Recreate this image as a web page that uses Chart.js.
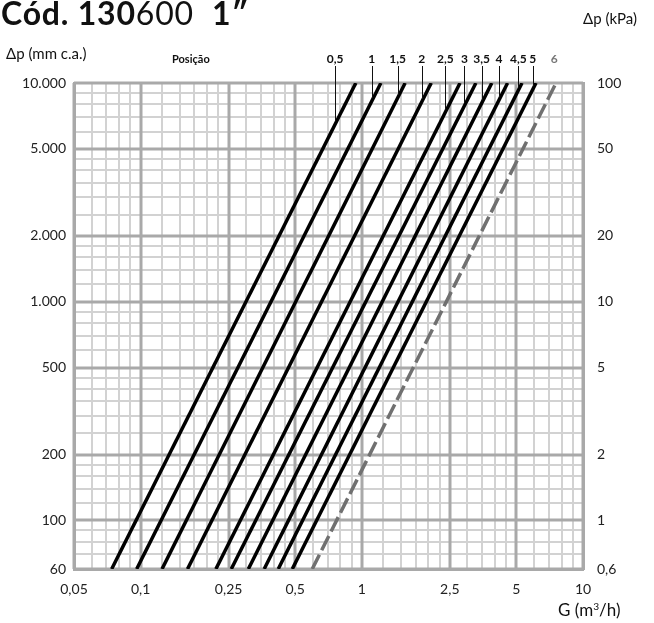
<!DOCTYPE html>
<html>
<head>
<meta charset="utf-8">
<script src="https://cdn.jsdelivr.net/npm/chart.js@4.4.1/dist/chart.umd.min.js"></script>
<style>
body { margin: 0; background: #fff; }
#wrap { position: relative; width: 654px; height: 623px; font-family: Lato, sans-serif; color: #111; }
canvas { position: absolute; left: 0; top: 0; }
.t { position: absolute; white-space: nowrap; line-height: 1; }
sup { font-size: 0.6em; vertical-align: 0.55em; line-height: 0; }
</style>
</head>
<body>
<div id="wrap">
  <canvas id="valveChart" width="654" height="623"></canvas>
  <div class="t" style="left:1px;top:-3px;font-size:32px;letter-spacing:0.8px;"><b>Cód. 130</b>600&nbsp; <b>1″</b></div>
  <div class="t" style="left:6px;top:46px;font-size:15px;">Δp (mm c.a.)</div>
  <div class="t" style="left:172px;top:53px;font-size:11px;font-weight:bold;">Posição</div>
  <div class="t" style="left:583px;top:11px;font-size:15px;">Δp (kPa)</div>
  <div class="t" style="left:558px;top:601px;font-size:17px;">G (m<sup>3</sup>/h)</div>
</div>
<script>
// valve positions and where each line meets the bottom (60 mm) and top (10.000 mm) of the grid
var positions = ['0,5', '1', '1,5', '2', '2,5', '3', '3,5', '4', '4,5', '5', '6'];
var gAtBottom = [0.074, 0.096, 0.125, 0.163, 0.219, 0.257, 0.307, 0.362, 0.419, 0.485, 0.597];
var gAtTop = [0.94, 1.22, 1.57, 2.06, 2.78, 3.28, 3.87, 4.56, 5.3, 6.13, 7.55];
var dpEnds = [60, 10000];
// flow value under each position label (where the leader line drops)
var labelG = [0.757, 1.109, 1.453, 1.865, 2.385, 2.91, 3.48, 4.17, 5.1, 5.93, 7.42];

var xMajor = [0.05, 0.1, 0.25, 0.5, 1, 2.5, 5, 10];
var xMinor = [0.06, 0.07, 0.08, 0.09, 0.125, 0.15, 0.175, 0.2, 0.225, 0.3, 0.35, 0.4, 0.45,
    0.6, 0.7, 0.8, 0.9, 1.25, 1.5, 1.75, 2, 2.25, 3, 3.5, 4, 4.5, 6, 7, 8, 9];
var yMajor = [60, 100, 200, 500, 1000, 2000, 5000, 10000];
var yMinor = [70, 80, 90, 120, 140, 160, 180, 250, 300, 350, 400, 450, 600, 700, 800, 900,
    1200, 1400, 1600, 1800, 2500, 3000, 3500, 4000, 4500, 6000, 7000, 8000, 9000];
var kpaTicks = [0.6, 1, 2, 5, 10, 20, 50, 100];

var MAJOR_COL = '#a9a9a9';
var MINOR_COL = '#d2d2d2';
var FONT = { family: 'Lato, sans-serif', size: 14 };

function comma(v) { return String(v).replace('.', ','); }
function mmLabel(v) { return v >= 1000 ? (v / 1000) + '.000' : String(v); }

function makeTicks(list) {
    return list.slice().sort(function (a, b) { return a - b; }).map(function (v) { return { value: v }; });
}

var datasets = positions.map(function (p, i) {
    var last = i === positions.length - 1;
    return {
        label: p,
        data: [{ x: gAtBottom[i], y: dpEnds[0] }, { x: gAtTop[i], y: dpEnds[1] }],
        borderColor: last ? '#707070' : '#000',
        borderWidth: 3.5,
        borderDash: last ? [16, 5] : [],
        pointRadius: 0,
        fill: false,
        yAxisID: 'y'
    };
});

// heavy grid lines go on top of the light ones
var majorGrid = {
    id: 'majorGrid',
    beforeDatasetsDraw: function (chart) {
        var c = chart.ctx, a = chart.chartArea, xs = chart.scales.x, ys = chart.scales.y;
        c.save();
        c.strokeStyle = MAJOR_COL;
        c.lineWidth = 3;
        c.beginPath();
        xMajor.forEach(function (v) {
            var px = Math.round(xs.getPixelForValue(v));
            c.moveTo(px, a.top); c.lineTo(px, a.bottom);
        });
        yMajor.forEach(function (v) {
            var py = Math.round(ys.getPixelForValue(v));
            c.moveTo(a.left, py); c.lineTo(a.right, py);
        });
        c.stroke();
        c.restore();
    }
};

var positionLabels = {
    id: 'positionLabels',
    afterDatasetsDraw: function (chart) {
        var c = chart.ctx, xs = chart.scales.x, ys = chart.scales.y;
        c.save();
        c.font = 'bold 12px Lato, sans-serif';
        c.textAlign = 'center';
        c.textBaseline = 'alphabetic';
        positions.forEach(function (p, i) {
            var last = i === positions.length - 1;
            var px = xs.getPixelForValue(labelG[i]);
            c.fillStyle = last ? '#777' : '#111';
            c.fillText(p, px, 63);
            if (last) return;
            // y of this position's line at the label's flow value
            var t = (Math.log(labelG[i]) - Math.log(gAtBottom[i])) / (Math.log(gAtTop[i]) - Math.log(gAtBottom[i]));
            var dp = Math.exp(Math.log(dpEnds[0]) + t * (Math.log(dpEnds[1]) - Math.log(dpEnds[0])));
            var py = ys.getPixelForValue(dp);
            c.strokeStyle = '#111';
            c.lineWidth = 1;
            c.beginPath();
            c.moveTo(Math.round(px) + 0.5, 66);
            c.lineTo(Math.round(px) + 0.5, py - 3);
            c.stroke();
        });
        c.restore();
    }
};

var ctx = document.getElementById('valveChart').getContext('2d');
var chart = new Chart(ctx, {
    type: 'line',
    data: { datasets: datasets },
    plugins: [majorGrid, positionLabels],
    options: {
        responsive: false,
        animation: false,
        layout: { padding: { top: 83, left: 0, right: 0, bottom: 0 } },
        plugins: { legend: { display: false }, tooltip: { enabled: false } },
        scales: {
            x: {
                type: 'logarithmic',
                min: 0.05,
                max: 10,
                afterBuildTicks: function (s) { s.ticks = makeTicks(xMajor.concat(xMinor)); },
                afterFit: function (s) { s.height = 54; },
                ticks: {
                    autoSkip: false, maxRotation: 0, padding: 12, color: '#222', font: FONT,
                    callback: function (v) { return xMajor.indexOf(v) >= 0 ? comma(v) : ''; }
                },
                grid: { drawTicks: false, color: MINOR_COL, lineWidth: 2 },
                border: { color: MAJOR_COL, width: 3 }
            },
            y: {
                type: 'logarithmic',
                position: 'left',
                min: 60,
                max: 10000,
                afterBuildTicks: function (s) { s.ticks = makeTicks(yMajor.concat(yMinor)); },
                afterFit: function (s) { s.width = 74; },
                ticks: {
                    autoSkip: false, padding: 8, color: '#222', font: FONT,
                    callback: function (v) { return yMajor.indexOf(v) >= 0 ? mmLabel(v) : ''; }
                },
                grid: { drawTicks: false, color: MINOR_COL, lineWidth: 2 },
                border: { color: MAJOR_COL, width: 3 }
            },
            y2: {
                type: 'logarithmic',
                position: 'right',
                min: 0.6,
                max: 100,
                afterBuildTicks: function (s) { s.ticks = makeTicks(kpaTicks); },
                afterFit: function (s) { s.width = 71; },
                ticks: {
                    autoSkip: false, padding: 14, color: '#222', font: FONT,
                    callback: function (v) { return comma(v); }
                },
                grid: { display: false, drawTicks: false },
                border: { color: MAJOR_COL, width: 3 }
            }
        }
    }
});
</script>
</body>
</html>
